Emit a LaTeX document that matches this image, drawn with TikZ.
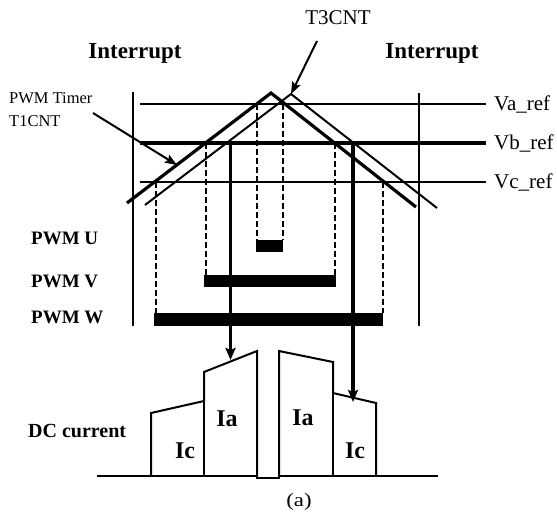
\documentclass[tikz,border=0pt]{standalone}
\usepackage{fontspec}
\setmainfont{Liberation Serif}
\usetikzlibrary{arrows.meta}
\begin{document}
\begin{tikzpicture}[x=1pt,y=-1pt,
  thinline/.style={line width=1.6pt},
  thickref/.style={line width=4pt},
  carrierA/.style={line width=3.2pt},
  carrierB/.style={line width=2pt},
  dashline/.style={line width=1.6pt, dash pattern=on 6pt off 3pt},
  barfill/.style={fill=black},
  bigarrow/.style={line width=3.2pt, -{Stealth[length=12pt,width=10pt,inset=2pt]}},
  ptr/.style={line width=2pt, -{Stealth[length=12pt,width=9pt,inset=2pt]}},
  wave/.style={line width=2pt, line join=miter},
  headtxt/.style={font=\fontsize{23}{26}\selectfont\bfseries, inner sep=0pt},
  lbl/.style={font=\fontsize{19}{22}\selectfont\bfseries, inner sep=0pt, anchor=west},
  reftxt/.style={font=\fontsize{21}{24}\selectfont, inner sep=0pt, anchor=west},
  curtxt/.style={font=\fontsize{24}{26}\selectfont\bfseries, inner sep=0pt}
]
\useasboundingbox (0,0) rectangle (557,512);

% texts
\node[headtxt] (intL) at (135,53) {Interrupt};
\node[headtxt] (intR) at (432,53) {Interrupt};
\node[font=\fontsize{21}{24}\selectfont, inner sep=0pt] (t3) at (338,18) {T3CNT};
\node[font=\fontsize{16.5}{23}\selectfont, inner sep=0pt, anchor=west, align=left] (t1) at (9,110) {PWM Timer\\T1CNT};
\node[reftxt] (va) at (494,104) {Va\_ref};
\node[reftxt] (vb) at (494,143) {Vb\_ref};
\node[reftxt] (vc) at (494,182) {Vc\_ref};
\node[lbl] (pu) at (31,238) {PWM U};
\node[lbl] (pv) at (31,281) {PWM V};
\node[lbl] (pw) at (31,317) {PWM W};
\node[lbl, font=\fontsize{20}{22}\selectfont\bfseries] (dc) at (28,431) {DC current};
\node[curtxt] (ia1) at (227,419) {Ia};
\node[curtxt] (ic1) at (185,451) {Ic};
\node[curtxt] (ia2) at (303,418) {Ia};
\node[curtxt] (ic2) at (355,451) {Ic};
\node[font=\fontsize{19}{20}\selectfont, inner sep=0pt, xscale=1.2] (cap) at (299,502) {(a)};

% interrupt boundaries
\draw[thinline] (133,92) -- (133,326);
\draw[thinline] (419,93) -- (419,326);

% reference levels
\coordinate (vaL) at (140,104); \coordinate (vaR) at (486,104);
\coordinate (vbL) at (140,143); \coordinate (vbR) at (486,143);
\coordinate (vcL) at (140,182); \coordinate (vcR) at (486,182);
\draw[thinline] (vaL) -- (vaR);
\draw[thickref] (vbL) -- (vbR);
\draw[line width=1.4pt] (vcL) -- (vcR);

% carriers
\coordinate (p1) at (271,93);
\coordinate (p2) at (291,94);
\draw[carrierA, line join=miter] (127,203) -- (p1) -- (416,207);
\draw[carrierB, line join=miter] (145,205) -- (p2) -- (437,208);

% PWM bars
\fill[barfill] (256,240) rectangle (283,252);
\fill[barfill] (204,275) rectangle (336,287);
\fill[barfill] (154,313) rectangle (383,326);

% dashed projections
\draw[dashline] (156,182) -- (156,313);
\draw[dashline] (206,143) -- (206,275);
\draw[dashline] (257,104) -- (257,240);
\draw[dashline] (283,104) -- (283,240);
\draw[dashline] (335,143) -- (335,275);
\draw[dashline] (383,182) -- (383,313);

% DC current waveform
\draw[wave] (97,476) -- (257,476) -- (257,478) -- (279,478) -- (279,476) -- (438,476);
\draw[wave] (151,476) -- (151,413) -- (204,401) -- (204,372) -- (257,351) -- (257,476);
\draw[wave] (204,401) -- (204,476);
\draw[wave] (279,476) -- (279,351) -- (333,362) -- (333,393) -- (376,403) -- (376,476);
\draw[wave] (333,393) -- (333,476);

% sampling arrows
\coordinate (sa) at (230.5,360);
\coordinate (sc) at (353,402);
\draw[bigarrow] (230.5,141) -- (sa);
\draw[bigarrow] (353,141) -- (sc);

% pointers
\coordinate (t1tip) at (177,165);
\draw[ptr] (93,113) -- (t1tip);
\draw[ptr] (317,41) -- (p2);
\end{tikzpicture}
\end{document}
